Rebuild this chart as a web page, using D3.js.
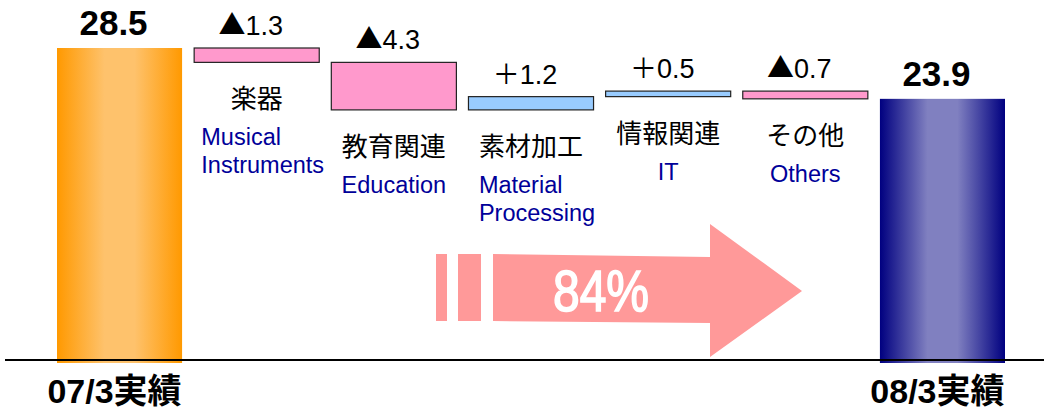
<!DOCTYPE html>
<html>
<head>
<meta charset="utf-8">
<script src="https://cdn.jsdelivr.net/npm/d3@7"></script>
<style>
  body { margin: 0; background: #fff; }
  text { font-family: "Liberation Sans", Arial, "Noto Sans CJK JP", sans-serif; }
  .jp { font-family: "Noto Sans CJK JP", sans-serif; }
</style>
</head>
<body>
<svg id="chart" width="1044" height="410"></svg>
<script>
//============Waterfall chart=========//
var categories = ["07/3実績", "楽器", "教育関連", "素材加工", "情報関連", "その他", "08/3実績"];
var categoriesEn = [[], ["Musical", "Instruments"], ["Education"], ["Material", "Processing"], ["IT"], ["Others"], []];
var values = [28.5, -1.3, -4.3, 1.2, 0.5, -0.7, 23.9];   // first and last are totals
var valueLabels = ["28.5", "▲1.3", "▲4.3", "＋1.2", "＋0.5", "▲0.7", "23.9"];
var ratioLabel = "84%";

var width = 1044, height = 410;
var svg = d3.select('#chart');

// scales
var x = d3.scaleBand()
  .domain(categories)
  .range([57, 1005])
  .paddingInner(0.088)
  .paddingOuter(0);

var y = d3.scaleLinear()
  .domain([0, 28.5])
  .range([363, 48]);

// build waterfall steps
var running = 0;
var steps = values.map(function(v, i) {
  var s;
  if (i === 0 || i === values.length - 1) {
    s = {lo: 0, hi: v, type: i === 0 ? 'start' : 'end'};
    running = v;
  } else {
    var next = running + v;
    s = {lo: Math.min(running, next), hi: Math.max(running, next), type: v < 0 ? 'down' : 'up'};
    running = next;
  }
  s.cat = categories[i];
  s.en = categoriesEn[i];
  s.label = valueLabels[i];
  return s;
});

// gradients for total bars
var defs = svg.append('defs');
function addGrad(id, edge, mid) {
  var g = defs.append('linearGradient').attr('id', id)
    .attr('x1', 0).attr('x2', 1).attr('y1', 0).attr('y2', 0);
  g.append('stop').attr('offset', 0).attr('stop-color', edge);
  g.append('stop').attr('offset', 0.38).attr('stop-color', mid);
  g.append('stop').attr('offset', 0.62).attr('stop-color', mid);
  g.append('stop').attr('offset', 1).attr('stop-color', edge);
}
addGrad('gradStart', '#FF9900', '#FEC26C');
addGrad('gradEnd', '#000080', '#8080C0');

var fills = {start: 'url(#gradStart)', end: 'url(#gradEnd)', down: '#FF99CC', up: '#99CCFF'};

// bars
svg.selectAll('.bar')
  .data(steps)
  .enter().append('rect')
  .attr('class', 'bar')
  .attr('x', function(d) { return x(d.cat); })
  .attr('width', x.bandwidth())
  .attr('y', function(d) { return y(d.hi); })
  .attr('height', function(d) { return y(d.lo) - y(d.hi); })
  .style('fill', function(d) { return fills[d.type]; })
  .style('stroke', function(d) { return (d.type === 'up' || d.type === 'down') ? '#222' : 'none'; })
  .style('stroke-width', 1.2);

// baseline
svg.append('line')
  .attr('x1', 5).attr('x2', width)
  .attr('y1', y(0) - 3).attr('y2', y(0) - 3)
  .style('stroke', '#000')
  .style('stroke-width', 2);

// arrow (decoration)
var arrowColor = '#FF9999';
svg.append('rect').attr('x', 436).attr('y', 254).attr('width', 11).attr('height', 67).style('fill', arrowColor);
svg.append('rect').attr('x', 458).attr('y', 254).attr('width', 23).attr('height', 67).style('fill', arrowColor);
svg.append('path')
  .attr('d', 'M493,254 L710,257 L710,224 L802,291 L710,357 L710,323 L493,321 Z')
  .style('fill', arrowColor);
svg.append('text')
  .attr('x', 553).attr('y', 311)
  .attr('textLength', 96).attr('lengthAdjust', 'spacingAndGlyphs')
  .style('font-size', '57px')
  .style('fill', '#fff')
  .style('stroke', '#fff')
  .style('stroke-width', 1.6)
  .text(ratioLabel);

// value labels (big symbols come from the CJK font)
var val = svg.selectAll('.val')
  .data(steps)
  .enter().append('text')
  .attr('class', 'val')
  .attr('x', function(d) { return x(d.cat) + x.bandwidth() / 2 - 6; })
  .attr('y', function(d) { return y(d.hi) - 13; })
  .attr('text-anchor', 'middle')
  .style('font-size', function(d) { return (d.type === 'start' || d.type === 'end') ? '35px' : '27px'; })
  .style('font-weight', function(d) { return (d.type === 'start' || d.type === 'end') ? 'bold' : 'normal'; })
  .style('fill', '#000');
val.each(function(d) {
  var t = d3.select(this);
  var sym = d.label.charAt(0);
  if (sym === '▲' || sym === '＋') {
    t.append('tspan').attr('class', 'jp').text(sym);
    t.append('tspan').text(d.label.slice(1));
  } else {
    t.text(d.label);
  }
});

// category labels
var mid = steps.slice(1, -1);
svg.selectAll('.cat')
  .data(mid)
  .enter().append('text')
  .attr('class', 'cat jp')
  .attr('x', function(d) { return x(d.cat) + x.bandwidth() / 2; })
  .attr('y', function(d) { return y(d.lo) + 46; })
  .attr('text-anchor', 'middle')
  .style('font-size', '26px')
  .style('fill', '#000')
  .text(function(d) { return d.cat; });

// english labels, left aligned block centered under the bar
mid.forEach(function(d) {
  var g = svg.append('g');
  var base = y(d.lo) + 46 + 37;
  var t = g.selectAll('text')
    .data(d.en)
    .enter().append('text')
    .attr('y', function(line, i) { return base + i * 28; })
    .style('font-size', '23.5px')
    .style('fill', '#000099')
    .text(function(line) { return line; });
  var w = d3.max(t.nodes(), function(n) { return n.getComputedTextLength(); });
  var shift = d.en.length > 1 ? 6 : 0;
  t.attr('x', x(d.cat) + x.bandwidth() / 2 - w / 2 + shift);
});

// bottom labels for the totals
svg.selectAll('.total')
  .data([steps[0], steps[steps.length - 1]])
  .enter().append('text')
  .attr('class', 'total')
  .attr('x', function(d) { return x(d.cat) + x.bandwidth() / 2 - 5; })
  .attr('y', 403)
  .attr('text-anchor', 'middle')
  .style('font-size', '34px')
  .style('font-weight', 'bold')
  .style('fill', '#000')
  .text(function(d) { return d.cat; });
</script>
</body>
</html>
